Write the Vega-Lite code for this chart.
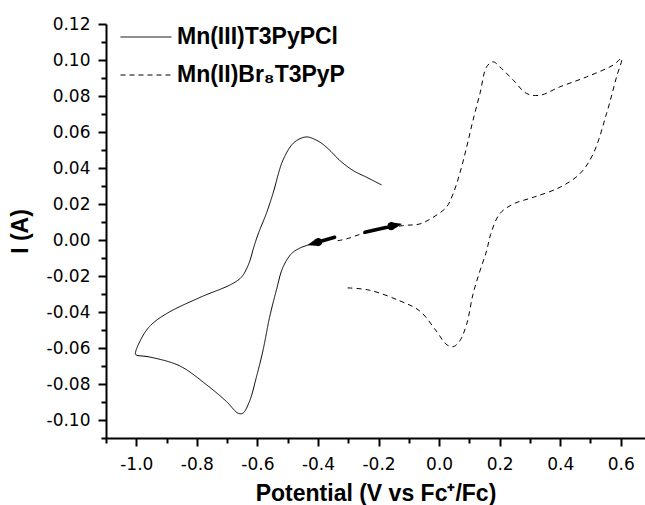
{
  "$schema": "https://vega.github.io/schema/vega-lite/v6.json",
  "width": 539,
  "height": 414,
  "autosize": "none",
  "padding": {"left": 106, "top": 24, "right": 0, "bottom": 67},
  "background": "white",
  "config": {
    "view": {"stroke": null},
    "axis": {
      "domainColor": "black",
      "domainWidth": 2,
      "tickColor": "black",
      "tickWidth": 2,
      "labelFont": "DejaVu Sans",
      "labelFontSize": 17,
      "labelColor": "black",
      "titleFont": "Liberation Sans",
      "titleFontSize": 23,
      "titleFontWeight": "bold",
      "titleColor": "black",
      "grid": false
    }
  },
  "resolve": {"axis": {"x": "independent", "y": "independent"}},
  "datasets": {
    "cv": [
      {"series": "Mn(III)T3PyPCl", "i": 1, "x": -0.345, "y": 0.0015},
      {"series": "Mn(III)T3PyPCl", "i": 2, "x": -0.4, "y": -0.0008},
      {"series": "Mn(III)T3PyPCl", "i": 3, "x": -0.433, "y": -0.0028},
      {"series": "Mn(III)T3PyPCl", "i": 4, "x": -0.46, "y": -0.0045},
      {"series": "Mn(III)T3PyPCl", "i": 5, "x": -0.487, "y": -0.0075},
      {"series": "Mn(III)T3PyPCl", "i": 6, "x": -0.516, "y": -0.0153},
      {"series": "Mn(III)T3PyPCl", "i": 7, "x": -0.538, "y": -0.0283},
      {"series": "Mn(III)T3PyPCl", "i": 8, "x": -0.56, "y": -0.0431},
      {"series": "Mn(III)T3PyPCl", "i": 9, "x": -0.582, "y": -0.0617},
      {"series": "Mn(III)T3PyPCl", "i": 10, "x": -0.604, "y": -0.0766},
      {"series": "Mn(III)T3PyPCl", "i": 11, "x": -0.626, "y": -0.0896},
      {"series": "Mn(III)T3PyPCl", "i": 12, "x": -0.648, "y": -0.0962},
      {"series": "Mn(III)T3PyPCl", "i": 13, "x": -0.664, "y": -0.0962},
      {"series": "Mn(III)T3PyPCl", "i": 14, "x": -0.703, "y": -0.0896},
      {"series": "Mn(III)T3PyPCl", "i": 15, "x": -0.769, "y": -0.0803},
      {"series": "Mn(III)T3PyPCl", "i": 16, "x": -0.857, "y": -0.0699},
      {"series": "Mn(III)T3PyPCl", "i": 17, "x": -0.956, "y": -0.065},
      {"series": "Mn(III)T3PyPCl", "i": 18, "x": -1.0, "y": -0.0639},
      {"series": "Mn(III)T3PyPCl", "i": 19, "x": -1.003, "y": -0.0632},
      {"series": "Mn(III)T3PyPCl", "i": 20, "x": -0.989, "y": -0.0566},
      {"series": "Mn(III)T3PyPCl", "i": 21, "x": -0.956, "y": -0.048},
      {"series": "Mn(III)T3PyPCl", "i": 22, "x": -0.901, "y": -0.041},
      {"series": "Mn(III)T3PyPCl", "i": 23, "x": -0.791, "y": -0.032},
      {"series": "Mn(III)T3PyPCl", "i": 24, "x": -0.685, "y": -0.0245},
      {"series": "Mn(III)T3PyPCl", "i": 25, "x": -0.652, "y": -0.0205},
      {"series": "Mn(III)T3PyPCl", "i": 26, "x": -0.628, "y": -0.013},
      {"series": "Mn(III)T3PyPCl", "i": 27, "x": -0.612, "y": -0.004},
      {"series": "Mn(III)T3PyPCl", "i": 28, "x": -0.596, "y": 0.004},
      {"series": "Mn(III)T3PyPCl", "i": 29, "x": -0.571, "y": 0.0145},
      {"series": "Mn(III)T3PyPCl", "i": 30, "x": -0.549, "y": 0.0256},
      {"series": "Mn(III)T3PyPCl", "i": 31, "x": -0.516, "y": 0.0442},
      {"series": "Mn(III)T3PyPCl", "i": 32, "x": -0.483, "y": 0.0535},
      {"series": "Mn(III)T3PyPCl", "i": 33, "x": -0.455, "y": 0.0566},
      {"series": "Mn(III)T3PyPCl", "i": 34, "x": -0.433, "y": 0.0572},
      {"series": "Mn(III)T3PyPCl", "i": 35, "x": -0.394, "y": 0.0544},
      {"series": "Mn(III)T3PyPCl", "i": 36, "x": -0.362, "y": 0.0500},
      {"series": "Mn(III)T3PyPCl", "i": 37, "x": -0.328, "y": 0.0442},
      {"series": "Mn(III)T3PyPCl", "i": 38, "x": -0.284, "y": 0.0386},
      {"series": "Mn(III)T3PyPCl", "i": 39, "x": -0.24, "y": 0.0349},
      {"series": "Mn(III)T3PyPCl", "i": 40, "x": -0.19, "y": 0.0306},
      {"series": "Mn(II)Br₈T3PyP", "i": 1, "x": -0.302, "y": -0.0266},
      {"series": "Mn(II)Br₈T3PyP", "i": 2, "x": -0.229, "y": -0.0279},
      {"series": "Mn(II)Br₈T3PyP", "i": 3, "x": -0.13, "y": -0.0338},
      {"series": "Mn(II)Br₈T3PyP", "i": 4, "x": -0.064, "y": -0.0394},
      {"series": "Mn(II)Br₈T3PyP", "i": 5, "x": -0.009, "y": -0.0506},
      {"series": "Mn(II)Br₈T3PyP", "i": 6, "x": 0.024, "y": -0.058},
      {"series": "Mn(II)Br₈T3PyP", "i": 7, "x": 0.046, "y": -0.0593},
      {"series": "Mn(II)Br₈T3PyP", "i": 8, "x": 0.068, "y": -0.0561},
      {"series": "Mn(II)Br₈T3PyP", "i": 9, "x": 0.091, "y": -0.0468},
      {"series": "Mn(II)Br₈T3PyP", "i": 10, "x": 0.112, "y": -0.0301},
      {"series": "Mn(II)Br₈T3PyP", "i": 11, "x": 0.135, "y": -0.0171},
      {"series": "Mn(II)Br₈T3PyP", "i": 12, "x": 0.157, "y": -0.006},
      {"series": "Mn(II)Br₈T3PyP", "i": 13, "x": 0.17, "y": 0.003},
      {"series": "Mn(II)Br₈T3PyP", "i": 14, "x": 0.2, "y": 0.0145},
      {"series": "Mn(II)Br₈T3PyP", "i": 15, "x": 0.245, "y": 0.02},
      {"series": "Mn(II)Br₈T3PyP", "i": 16, "x": 0.311, "y": 0.0237},
      {"series": "Mn(II)Br₈T3PyP", "i": 17, "x": 0.399, "y": 0.0293},
      {"series": "Mn(II)Br₈T3PyP", "i": 18, "x": 0.465, "y": 0.0368},
      {"series": "Mn(II)Br₈T3PyP", "i": 19, "x": 0.509, "y": 0.0479},
      {"series": "Mn(II)Br₈T3PyP", "i": 20, "x": 0.553, "y": 0.0702},
      {"series": "Mn(II)Br₈T3PyP", "i": 21, "x": 0.586, "y": 0.0906},
      {"series": "Mn(II)Br₈T3PyP", "i": 22, "x": 0.603, "y": 0.1009},
      {"series": "Mn(II)Br₈T3PyP", "i": 23, "x": 0.575, "y": 0.0972},
      {"series": "Mn(II)Br₈T3PyP", "i": 24, "x": 0.487, "y": 0.0906},
      {"series": "Mn(II)Br₈T3PyP", "i": 25, "x": 0.399, "y": 0.0851},
      {"series": "Mn(II)Br₈T3PyP", "i": 26, "x": 0.333, "y": 0.0804},
      {"series": "Mn(II)Br₈T3PyP", "i": 27, "x": 0.289, "y": 0.0814},
      {"series": "Mn(II)Br₈T3PyP", "i": 28, "x": 0.245, "y": 0.0888},
      {"series": "Mn(II)Br₈T3PyP", "i": 29, "x": 0.206, "y": 0.0953},
      {"series": "Mn(II)Br₈T3PyP", "i": 30, "x": 0.178, "y": 0.099},
      {"series": "Mn(II)Br₈T3PyP", "i": 31, "x": 0.157, "y": 0.0962},
      {"series": "Mn(II)Br₈T3PyP", "i": 32, "x": 0.135, "y": 0.0814},
      {"series": "Mn(II)Br₈T3PyP", "i": 33, "x": 0.112, "y": 0.0665},
      {"series": "Mn(II)Br₈T3PyP", "i": 34, "x": 0.091, "y": 0.0516},
      {"series": "Mn(II)Br₈T3PyP", "i": 35, "x": 0.068, "y": 0.0368},
      {"series": "Mn(II)Br₈T3PyP", "i": 36, "x": 0.046, "y": 0.0256},
      {"series": "Mn(II)Br₈T3PyP", "i": 37, "x": 0.024, "y": 0.0182},
      {"series": "Mn(II)Br₈T3PyP", "i": 38, "x": -0.02, "y": 0.0126},
      {"series": "Mn(II)Br₈T3PyP", "i": 39, "x": -0.064, "y": 0.0089},
      {"series": "Mn(II)Br₈T3PyP", "i": 40, "x": -0.12, "y": 0.008},
      {"series": "Mn(II)Br₈T3PyP", "i": 41, "x": -0.246, "y": 0.0039},
      {"series": "Mn(II)Br₈T3PyP", "i": 42, "x": -0.306, "y": 0.0006},
      {"series": "Mn(II)Br₈T3PyP", "i": 43, "x": -0.335, "y": -0.0004}
    ],
    "arrows": [
      {"arrow": "a", "i": 1, "x": -0.345, "y": 0.0015, "w": 3.5},
      {"arrow": "a", "i": 2, "x": -0.399, "y": -0.0011, "w": 3.5},
      {"arrow": "a", "i": 3, "x": -0.4, "y": -0.0012, "w": 8},
      {"arrow": "a", "i": 4, "x": -0.433, "y": -0.0028, "w": 0.5},
      {"arrow": "b", "i": 1, "x": -0.245, "y": 0.0043, "w": 3.5},
      {"arrow": "b", "i": 2, "x": -0.158, "y": 0.0076, "w": 3.5},
      {"arrow": "b", "i": 3, "x": -0.157, "y": 0.0077, "w": 8},
      {"arrow": "b", "i": 4, "x": -0.124, "y": 0.0089, "w": 0.5}
    ]
  },
  "layer": [
    {
      "data": {"name": "cv"},
      "mark": {"type": "line", "color": "black", "strokeWidth": 1, "interpolate": "catmull-rom"},
      "encoding": {
        "x": {
          "field": "x",
          "type": "quantitative",
          "scale": {"domain": [-1.1, 0.68], "nice": false, "zero": false},
          "axis": {
            "orient": "bottom",
            "title": "Potential (V vs Fc⁺/Fc)",
            "values": [-1.0, -0.8, -0.6, -0.4, -0.2, 0.0, 0.2, 0.4, 0.6],
            "labelExpr": "(datum.value < -0.001 ? '-' : '') + format(abs(datum.value), '.1f')",
            "tickSize": 8,
            "labelPadding": 10,
            "titlePadding": 10,
            "labelFlush": false,
            "labelOverlap": false
          }
        },
        "y": {
          "field": "y",
          "type": "quantitative",
          "scale": {"domain": [-0.11, 0.12], "nice": false, "zero": false},
          "axis": {
            "orient": "left",
            "title": "I (A)",
            "values": [-0.1, -0.08, -0.06, -0.04, -0.02, 0.0, 0.02, 0.04, 0.06, 0.08, 0.1, 0.12],
            "labelExpr": "(datum.value < -0.0001 ? '-' : '') + format(abs(datum.value), '.2f')",
            "tickSize": 8,
            "labelPadding": 8,
            "titlePadding": 14,
            "labelFlush": false,
            "labelOverlap": false
          }
        },
        "order": {"field": "i", "type": "quantitative"},
        "strokeDash": {
          "field": "series",
          "type": "nominal",
          "scale": {"domain": ["Mn(III)T3PyPCl", "Mn(II)Br₈T3PyP"], "range": [[1, 0], [5, 4]]},
          "legend": {
            "orient": "none",
            "legendX": 14,
            "legendY": -13,
            "title": null,
            "padding": 0,
            "symbolType": "stroke",
            "symbolSize": 2600,
            "symbolStrokeColor": "black",
            "symbolStrokeWidth": 1,
            "labelFont": "Liberation Sans",
            "labelFontSize": 23,
            "labelFontWeight": "bold",
            "labelColor": "black",
            "labelOffset": 5,
            "labelLimit": 400,
            "rowPadding": -37
          }
        }
      }
    },
    {
      "data": {"name": "arrows"},
      "mark": {"type": "trail", "color": "black"},
      "encoding": {
        "x": {
          "field": "x",
          "type": "quantitative",
          "axis": {
            "orient": "bottom",
            "values": [-1.1, -0.9, -0.7, -0.5, -0.3, -0.1, 0.1, 0.3, 0.5],
            "labels": false,
            "domain": false,
            "title": null,
            "tickSize": 5
          }
        },
        "y": {
          "field": "y",
          "type": "quantitative",
          "axis": {
            "orient": "left",
            "values": [-0.11, -0.09, -0.07, -0.05, -0.03, -0.01, 0.01, 0.03, 0.05, 0.07, 0.09, 0.11],
            "labels": false,
            "domain": false,
            "title": null,
            "tickSize": 5
          }
        },
        "order": {"field": "i", "type": "quantitative"},
        "detail": {"field": "arrow", "type": "nominal"},
        "size": {"field": "w", "type": "quantitative", "scale": null, "legend": null}
      }
    }
  ]
}
